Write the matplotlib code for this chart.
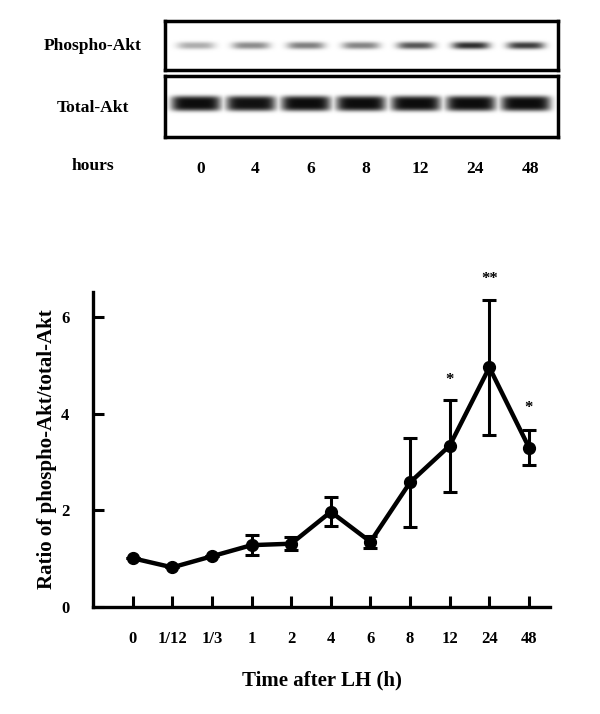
import numpy as np
import matplotlib
matplotlib.use("Agg")
import matplotlib.pyplot as plt

plt.rcParams['font.family'] = ['Liberation Serif', 'DejaVu Serif']
plt.rcParams['font.weight'] = 'bold'
plt.rcParams['axes.labelweight'] = 'bold'

# western blot lanes and band darkness (0 = white, 1 = black)
blot_lanes = ['0', '4', '6', '8', '12', '24', '48']
phospho_band = [0.32, 0.45, 0.50, 0.48, 0.66, 0.82, 0.76]
total_band = [0.95, 0.93, 0.95, 0.95, 0.95, 0.95, 0.95]

# line chart
time_labels = ['0', '1/12', '1/3', '1', '2', '4', '6', '8', '12', '24', '48']
ratio = [1.01, 0.82, 1.05, 1.28, 1.31, 1.97, 1.35, 2.58, 3.34, 4.96, 3.30]
ratio_err = [0.0, 0.0, 0.0, 0.20, 0.13, 0.30, 0.12, 0.92, 0.95, 1.40, 0.36]
star_idx = [8, 9, 10]
star_text = ['*', '**', '*']
star_y = [4.70, 6.78, 4.12]

W, H = 600, 714
fig = plt.figure(figsize=(W / 100, H / 100), dpi=100)


def box(x0, y0, x1, y1):
    # pixel box (top-left origin) -> figure fraction rect
    return [x0 / W, 1 - y1 / H, (x1 - x0) / W, (y1 - y0) / H]


def band_image(dark, half_w, yc, half_h, xlim, px, py):
    xs = np.linspace(xlim[0], xlim[1], 700)
    ys = np.linspace(0, 1, 160)
    X, Y = np.meshgrid(xs, ys)
    img = np.zeros_like(X)
    for i, d in enumerate(dark):
        prof = np.exp(-np.abs((X - i) / half_w) ** px) * np.exp(-np.abs((Y - yc) / half_h) ** py)
        img = np.maximum(img, d * prof)
    return img


xlim_blot = (-0.56, 6.58)
ax_p = fig.add_axes(box(165, 21, 558, 70))
ax_t = fig.add_axes(box(165, 76, 558, 137))
for ax, dark, hw, yc, hh, px, py in [(ax_p, phospho_band, 0.34, 0.50, 0.075, 4, 2.5),
                                     (ax_t, total_band, 0.45, 0.55, 0.125, 6, 4)]:
    img = band_image(dark, hw, yc, hh, xlim_blot, px, py)
    ax.imshow(img, cmap='gray_r', vmin=0, vmax=1, aspect='auto', origin='lower',
              extent=[xlim_blot[0], xlim_blot[1], 0, 1], interpolation='bilinear')
    ax.set_xlim(*xlim_blot)
    ax.set_ylim(0, 1)
    ax.set_yticks([])
    for s in ax.spines.values():
        s.set_linewidth(2.5)
ax_p.set_xticks([])
ax_t.set_xticks(np.arange(len(blot_lanes)) + 0.08, blot_lanes)
ax_t.tick_params(axis='x', length=0, pad=17, labelsize=12.5)

fig.text(93 / W, 1 - 46 / H, 'Phospho-Akt', ha='center', va='center', fontsize=12.6)
fig.text(93 / W, 1 - 108 / H, 'Total-Akt', ha='center', va='center', fontsize=12.6)
fig.text(93 / W, 1 - 166 / H, 'hours', ha='center', va='center', fontsize=12.6)

# main chart
ax = fig.add_axes(box(93, 292, 550, 607))
x = np.arange(len(time_labels))
ax.errorbar(x, ratio, yerr=ratio_err, color='black', lw=3.2, marker='o', ms=8.5,
            elinewidth=2.2, capsize=5, capthick=2.2, zorder=3)
for i, t, yy in zip(star_idx, star_text, star_y):
    ax.text(i, yy, t, ha='center', va='center', fontsize=12, clip_on=False)

ax.set_xlim(-1.0, 10.53)
ax.set_ylim(0, 6.52)
ax.set_xticks(x, time_labels)
ax.set_yticks([0, 2, 4, 6])
ax.tick_params(direction='in', length=8, width=2.2, labelsize=12)
ax.tick_params(axis='x', pad=17)
ax.tick_params(axis='y', pad=17)
ax.spines['top'].set_visible(False)
ax.spines['right'].set_visible(False)
ax.spines['left'].set_linewidth(2.4)
ax.spines['bottom'].set_linewidth(2.4)
ax.set_xlabel('Time after LH (h)', fontsize=15, fontweight='bold', labelpad=17)
ax.set_ylabel('Ratio of phospho-Akt/total-Akt', fontsize=15, fontweight='bold', labelpad=3)

fig.savefig('out.png', dpi=100)
